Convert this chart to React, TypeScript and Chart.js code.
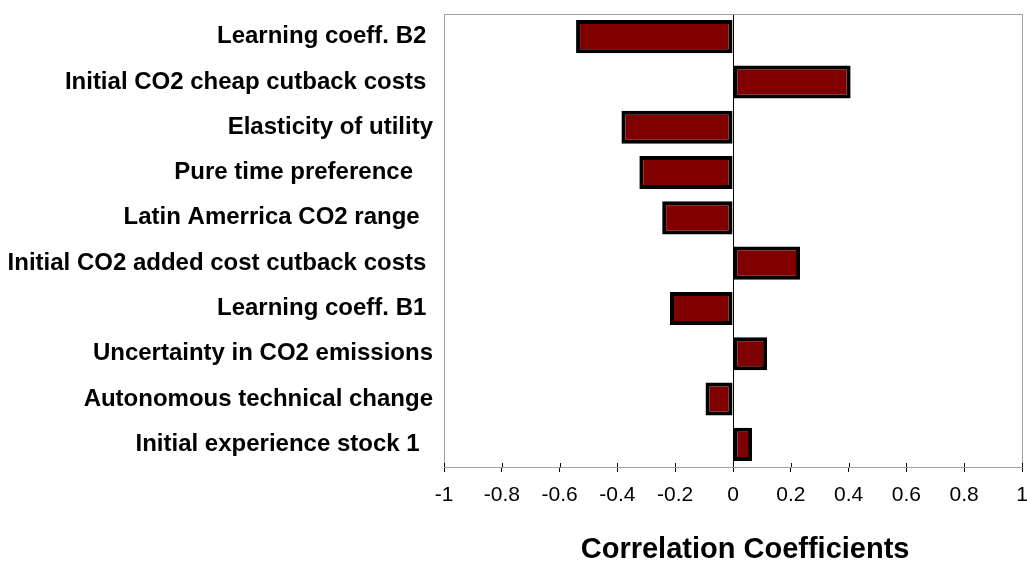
import React, { useEffect, useRef } from "react";
import { Chart, registerables } from "chart.js";

Chart.register(...registerables);

const categories: string[] = [
  "Learning coeff. B2 ",
  "Initial CO2 cheap cutback costs ",
  "Elasticity of utility",
  "Pure time preference   ",
  "Latin Amerrica CO2 range  ",
  "Initial CO2 added cost cutback costs ",
  "Learning coeff. B1 ",
  "Uncertainty in CO2 emissions",
  "Autonomous technical change",
  "Initial experience stock 1  ",
];

const correlations: number[] = [
  -0.543, 0.407, -0.386, -0.324, -0.245, 0.232, -0.218, 0.118, -0.095, 0.066,
];

const xMin = -1;
const xMax = 1;
const xStep = 0.2;
const axisTitle = "   Correlation Coefficients";

const FONT = "'Liberation Sans', Arial, Helvetica, sans-serif";

const framePlugin = {
  id: "frame",
  beforeDatasetsDraw(chart: any) {
    const { ctx, chartArea } = chart;
    ctx.save();
    ctx.strokeStyle = "#a0a0a0";
    ctx.lineWidth = 1;
    ctx.strokeRect(
      Math.round(chartArea.left) + 0.5,
      Math.round(chartArea.top) + 0.5,
      Math.round(chartArea.right - chartArea.left),
      Math.round(chartArea.bottom - chartArea.top)
    );
    ctx.restore();
  },
  afterDraw(chart: any) {
    const { ctx, chartArea } = chart;
    const xs = chart.scales.x;
    ctx.save();
    ctx.strokeStyle = "#000";
    ctx.lineWidth = 1;
    ctx.beginPath();
    xs.ticks.forEach((t: any) => {
      const px = Math.round(xs.getPixelForValue(t.value)) + 0.5;
      ctx.moveTo(px, chartArea.bottom - 4);
      ctx.lineTo(px, chartArea.bottom);
    });
    ctx.stroke();
    ctx.restore();
  },
};

export default function App() {
  const canvasRef = useRef<HTMLCanvasElement | null>(null);

  useEffect(() => {
    if (!canvasRef.current) return;
    const chart = new Chart(canvasRef.current, {
      type: "bar",
      data: {
        labels: categories,
        datasets: [
          {
            data: correlations,
            backgroundColor: "#800000",
            borderColor: "#000000",
            borderWidth: 4,
            borderSkipped: false,
            barPercentage: 0.73,
            categoryPercentage: 1,
          },
        ],
      },
      options: {
        indexAxis: "y",
        animation: false,
        responsive: true,
        maintainAspectRatio: false,
        layout: { padding: { left: 0, right: 5, top: 14, bottom: 0 } },
        plugins: {
          legend: { display: false },
          tooltip: { enabled: false },
        },
        scales: {
          x: {
            type: "linear",
            min: xMin,
            max: xMax,
            ticks: {
              stepSize: xStep,
              color: "#000",
              font: { family: FONT, size: 21 },
              padding: 11,
              callback: (v: any) => String(Math.round(Number(v) * 10) / 10),
            },
            grid: {
              drawOnChartArea: true,
              color: (c: any) =>
                c.tick && Math.abs(c.tick.value) < 1e-9 ? "#000" : "rgba(0,0,0,0)",
              tickColor: "#000",
              tickLength: 5,
              lineWidth: 1,
            },
            border: { display: true, color: "#000", width: 1 },
            title: {
              display: true,
              text: axisTitle,
              color: "#000",
              font: { family: FONT, size: 29, weight: "bold" },
              padding: { top: 0, bottom: -4 },
            },
            afterFit: (s: any) => {
              s.height = 96;
              s.paddingLeft = 0;
              s.paddingRight = 0;
            },
          },
          y: {
            type: "category",
            ticks: {
              color: "#000",
              font: { family: FONT, size: 24, weight: "bold" },
              padding: 11,
            },
            grid: { display: false, drawTicks: false },
            border: { display: true, color: "#a0a0a0", width: 1 },
            afterFit: (s: any) => {
              s.width = 444;
              s.paddingTop = 0;
              s.paddingBottom = 0;
            },
          },
        },
      },
      plugins: [framePlugin],
    });
    return () => chart.destroy();
  }, []);

  return (
    <div
      style={{
        position: "absolute",
        left: 0,
        top: 0,
        width: 1027,
        height: 563,
        background: "#fff",
      }}
    >
      <canvas ref={canvasRef} />
    </div>
  );
}
